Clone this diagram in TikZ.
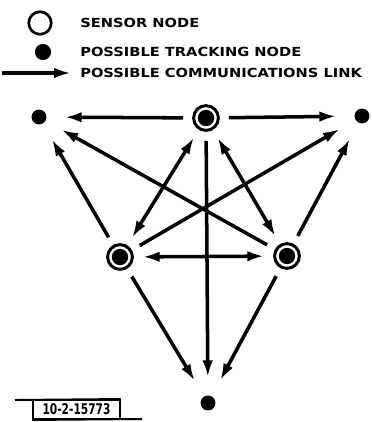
\documentclass[tikz,border=0pt]{standalone}
\usepackage{fontspec}
\newfontfamily\lblfont{DejaVu Sans Bold}[FakeStretch=1.17]
\newfontfamily\tagfont{DejaVu Sans Bold}[FakeStretch=0.72]
\usetikzlibrary{arrows.meta, positioning}

\begin{document}
\begin{tikzpicture}[
  x=0.025cm, y=-0.025cm,
  lbl/.style={font=\lblfont\fontsize{8.9}{10}\selectfont, inner sep=0pt, anchor=west},
  sensor/.style={circle, draw, line width=2.1pt, minimum size=17.6pt, inner sep=0pt, outer sep=7.4pt,
    path picture={\fill (path picture bounding box.center) circle (5.8pt);}},
  track/.style={circle, fill, minimum size=10.6pt, inner sep=0pt, outer sep=13pt},
  link/.style={line width=2.5pt, -{Latex[length=12pt, width=7.5pt]}},
  both/.style={link, {Latex[length=12pt, width=7.5pt]}-{Latex[length=12pt, width=7.5pt]}},
]
\useasboundingbox (0,0) rectangle (371,422);
% legend
\node[circle, draw, line width=1.9pt, minimum size=16pt, inner sep=0pt] (keysens) at (40,23) {};
\node[circle, fill, minimum size=11.5pt, inner sep=0pt] (keytrack) at (43,52) {};
\coordinate (keya) at (2,73);
\coordinate (keyb) at (71,73);
\draw[link] (keya) -- (keyb);
\node[lbl] (txtsens) at (80,23) {SENSOR NODE};
\node[lbl] (txttrack) at (80,52) {POSSIBLE TRACKING NODE};
\node[lbl] (txtlink) at (80,73) {POSSIBLE COMMUNICATIONS LINK};
% network
\node[track] (tl) at (39,117) {};
\node[sensor] (tc) at (206,118) {};
\node[track] (tr) at (362,116) {};
\node[sensor] (ls) at (120,257) {};
\node[sensor] (rs) at (287,256) {};
\node[track] (bot) at (208,403) {};
\draw[link] (tc) -- (tl);
\draw[link] (tc) -- (tr);
\draw[link] (ls) -- (tl);
\draw[link] (rs) -- (tl);
\draw[link] (ls) -- (tr);
\draw[link] (rs) -- (tr);
\draw[both] (tc) -- (ls);
\draw[both] (tc) -- (rs);
\draw[both] (ls) -- (rs);
\draw[link] (tc) -- (bot);
\draw[link] (ls) -- (bot);
\draw[link] (rs) -- (bot);
% figure tag
\node[draw, line width=1.4pt, font=\tagfont\fontsize{10.5}{11}\selectfont,
  minimum width=61.7pt, minimum height=13.5pt, inner sep=1pt] (tag) at (76.5,409.5) {10-2-15773};
\coordinate (tagl) at (15,400);
\coordinate (tagr) at (142,419);
\draw[line width=1.4pt] (tagl) -- (tag.north east);
\draw[line width=1.4pt] (tag.south west) -- (tagr);
\end{tikzpicture}
\end{document}
